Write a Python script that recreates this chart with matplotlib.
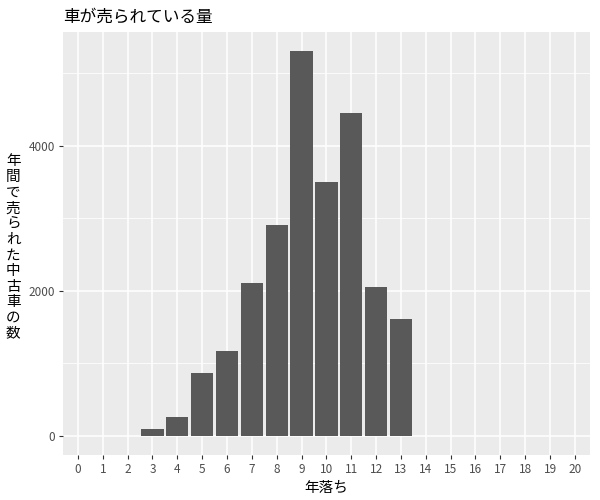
import matplotlib
matplotlib.use('Agg')
import matplotlib.pyplot as plt
from matplotlib.ticker import MultipleLocator

plt.rcParams['font.family'] = ['Noto Sans CJK JP', 'DejaVu Sans']

# data
years = list(range(0, 21))
bar_years = [3, 4, 5, 6, 7, 8, 9, 10, 11, 12, 13]
counts = [100, 265, 870, 1165, 2105, 2910, 5305, 3505, 4450, 2050, 1610]

title = '車が売られている量'
xlabel = '年落ち'
ylabel = '年間で売られた中古車の数'

fig = plt.figure(figsize=(6, 5), dpi=100)
ax = fig.add_axes([0.105, 0.09, 0.878, 0.846])
ax.set_facecolor('#EBEBEB')

ax.bar(bar_years, counts, width=0.9, color='#595959', zorder=3)

# ggplot-ish scales
ax.set_xlim(-0.6, 20.6)
ymax = max(counts)
ax.set_ylim(-0.05 * ymax, 1.05 * ymax)
ax.set_xticks(years)
ax.set_xticklabels([str(y) for y in years])
ax.yaxis.set_major_locator(MultipleLocator(2000))
ax.yaxis.set_minor_locator(MultipleLocator(1000))

ax.grid(which='major', color='white', linewidth=1.1, zorder=0)
ax.grid(which='minor', axis='y', color='white', linewidth=0.55, zorder=0)
ax.set_axisbelow(True)
for s in ax.spines.values():
    s.set_visible(False)
ax.tick_params(which='major', length=3, width=0.8, color='#333333',
               labelcolor='#4D4D4D', labelsize=8.5, pad=3)
ax.tick_params(which='minor', length=0)

ax.set_xlabel(xlabel, fontsize=10.5, color='black', labelpad=3)
# stacked vertical label
fig.text(0.022, 0.505, '\n'.join(ylabel), ha='center', va='center',
         fontsize=10.5, linespacing=1.15)

fig.text(0.105, 0.966, title, ha='left', va='center', fontsize=12)

fig.savefig('out.png', dpi=100)
